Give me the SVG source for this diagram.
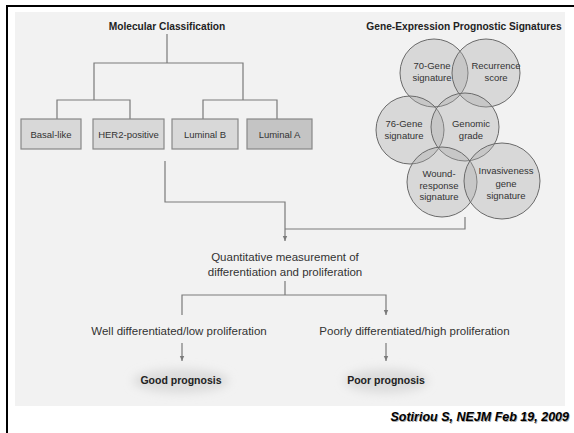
<svg xmlns="http://www.w3.org/2000/svg" width="574" height="433" viewBox="0 0 574 433">
<style>
.ln{fill:none;stroke:#7a7a7a;stroke-width:1.2}
.box{fill:#d8d8d8;stroke:#888;stroke-width:1.2}
.boxA{fill:#c4c4c4;stroke:#888;stroke-width:1.2}
.circ{fill:#a8a8a8;fill-opacity:0.36;stroke:#6a6a6a;stroke-width:1}
.t{font-family:"Liberation Sans",Arial,sans-serif;fill:#333;text-anchor:middle}
.h{font-size:10.2px;font-weight:bold;fill:#222}
.b{font-size:9.5px}
.c{font-size:9.5px}
.m{font-size:11.5px}
.p{font-size:10.5px;font-weight:bold;fill:#222}
</style>
<defs>
<marker id="ar" markerWidth="6" markerHeight="6" refX="5" refY="3" orient="auto" markerUnits="userSpaceOnUse">
<path d="M0,0.8 L5,3 L0,5.2 Z" fill="#7a7a7a"/>
</marker>
<filter id="blur" x="-50%" y="-50%" width="200%" height="200%"><feGaussianBlur stdDeviation="5"/></filter>
</defs>
<rect x="0" y="0" width="574" height="433" fill="#fff"/>
<rect x="15" y="12" width="550" height="394" fill="#f2f2f2"/>
<line x1="6" y1="6" x2="574" y2="6" stroke="#000" stroke-width="2"/>
<line x1="7" y1="5" x2="7" y2="433" stroke="#000" stroke-width="2"/>

<g id="connectors">
<path class="ln" d="M167,34 V63 M94,100 V63 H243 V100 M57,119 V100 H130 V119 M203,119 V100 H277 V119"/>
<path class="ln" d="M165,161 V202 H285 V241" marker-end="url(#ar)"/>
<path class="ln" d="M465,217 V229 H285"/>
<path class="ln" d="M285,281 V295 M182,315 V295 H386 V315" marker-end="url(#ar)"/>
<path class="ln" d="M182,343 V361" marker-end="url(#ar)"/>
<path class="ln" d="M386,343 V361" marker-end="url(#ar)"/>
</g>

<g id="title-molecular"><text class="t h" x="167" y="30">Molecular Classification</text></g>
<g id="title-gene"><text class="t h" x="464" y="30">Gene-Expression Prognostic Signatures</text></g>

<g id="basal"><rect class="box" x="21" y="119" width="60" height="30"/><text class="t b" x="51" y="138">Basal-like</text></g>
<g id="her2"><rect class="box" x="93" y="119" width="71" height="30"/><text class="t b" x="128.5" y="138">HER2-positive</text></g>
<g id="lumB"><rect class="box" x="172" y="119" width="66" height="30"/><text class="t b" x="205" y="138">Luminal B</text></g>
<g id="lumA"><rect class="boxA" x="247" y="119" width="65" height="30"/><text class="t b" x="279.5" y="138">Luminal A</text></g>

<g id="c70"><circle class="circ" cx="434" cy="73" r="34"/></g>
<g id="crec"><circle class="circ" cx="486" cy="73" r="34"/></g>
<g id="c76"><circle class="circ" cx="410" cy="130" r="34"/></g>
<g id="cgen"><circle class="circ" cx="465" cy="127" r="34"/></g>
<g id="cwound"><circle class="circ" cx="442" cy="182" r="35"/></g>
<g id="cinv"><circle class="circ" cx="502" cy="181" r="38"/></g>
<g id="circle-labels">
<text class="t c" x="432" y="69">70-Gene</text><text class="t c" x="432" y="81">signature</text>
<text class="t c" x="496" y="69">Recurrence</text><text class="t c" x="496" y="81">score</text>
<text class="t c" x="404" y="127">76-Gene</text><text class="t c" x="404" y="139">signature</text>
<text class="t c" x="471" y="127">Genomic</text><text class="t c" x="471" y="139">grade</text>
<text class="t c" x="439" y="177">Wound-</text><text class="t c" x="439" y="189">response</text><text class="t c" x="439" y="200">signature</text>
<text class="t c" x="506" y="174">Invasiveness</text><text class="t c" x="506" y="187">gene</text><text class="t c" x="506" y="199">signature</text>
</g>

<g id="quant"><text class="t m" x="285" y="261">Quantitative measurement of</text><text class="t m" x="285" y="276">differentiation and proliferation</text></g>
<g id="well"><text class="t m" x="179" y="335">Well differentiated/low proliferation</text></g>
<g id="poorly"><text class="t m" x="414.5" y="335">Poorly differentiated/high proliferation</text></g>
<g id="good"><ellipse cx="181" cy="381" rx="48" ry="12" fill="#dcdcdc" filter="url(#blur)"/><text class="t p" x="181" y="384">Good prognosis</text></g>
<g id="poor"><ellipse cx="386" cy="381" rx="42" ry="12" fill="#dcdcdc" filter="url(#blur)"/><text class="t p" x="386" y="384">Poor prognosis</text></g>

<g id="citation"><text x="569" y="421" font-family="'Liberation Sans',Arial,sans-serif" font-size="12.5" font-weight="bold" font-style="italic" text-anchor="end" fill="#aaa" transform="translate(0.8,0.8)">Sotiriou S, NEJM Feb 19, 2009</text><text x="569" y="421" font-family="'Liberation Sans',Arial,sans-serif" font-size="12.5" font-weight="bold" font-style="italic" text-anchor="end" fill="#000">Sotiriou S, NEJM Feb 19, 2009</text></g>
</svg>
